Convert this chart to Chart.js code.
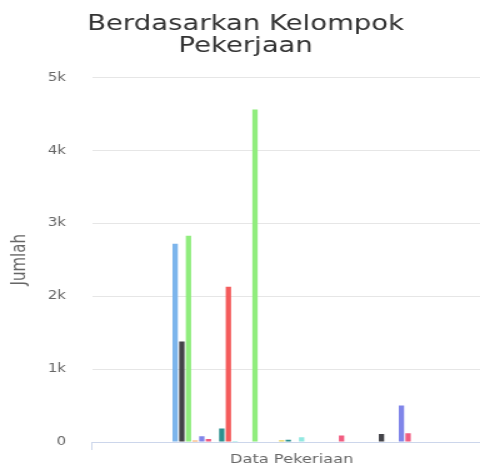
<!DOCTYPE html>
<html>
<head>
<meta charset="utf-8">
<script src="https://cdn.jsdelivr.net/npm/chart.js@4"></script>
<style>
  html, body { margin: 0; padding: 0; background: #fff; overflow: hidden; }
  #wrap { width: 396px; height: 475px; transform: scaleX(1.25); transform-origin: 0 0; }
</style>
</head>
<body>
<div id="wrap"><canvas id="chart" width="396" height="475"></canvas></div>
<script>
const categories = ["Data Pekerjaan"];

// one value per job group left to right
const values = [
  2720, 1380, 2830, 20, 80, 40, 0, 185, 2130, 15,
  0, 0, 4560, 0, 0, 0, 25, 30, 0, 65,
  0, 0, 0, 0, 0, 90, 0, 0, 0, 0,
  0, 110, 0, 0, 500, 120
];

const seriesNames = values.map((v, i) => `Kelompok ${i + 1}`);

const palette = ["#7cb5ec", "#434348", "#90ed7d", "#f7a35c", "#8085e9",
                 "#f15c80", "#e4d354", "#2b908f", "#f45b5b", "#91e8e1"];

const yTicks = [0, 1000, 2000, 3000, 4000, 5000];

const font = "'DejaVu Sans', Verdana, sans-serif";

const ctx = document.getElementById("chart").getContext("2d");

new Chart(ctx, {
  type: "bar",
  data: {
    labels: categories,
    datasets: values.map((v, i) => ({
      label: seriesNames[i],
      data: [v],
      backgroundColor: palette[i % palette.length],
      borderWidth: 0,
      categoryPercentage: 0.6,
      barPercentage: 0.8
    }))
  },
  options: {
    responsive: false,
    animation: false,
    devicePixelRatio: 1,
    layout: { padding: { left: 0, right: 3, top: 0, bottom: 5.4 } },
    plugins: {
      legend: { display: false },
      tooltip: { enabled: false },
      title: {
        display: true,
        text: ["Berdasarkan Kelompok", "Pekerjaan"],
        color: "#333",
        font: { family: font, size: 22, weight: "normal", lineHeight: 1.02 },
        padding: { top: 13, bottom: 19.6 }
      }
    },
    scales: {
      x: {
        grid: { drawOnChartArea: false, tickLength: 8, color: "#ccd6eb" },
        border: { color: "#ccd6eb" },
        ticks: {
          color: "#666",
          padding: 2,
          font: { family: font, size: 13 }
        }
      },
      y: {
        min: 0,
        max: 5000,
        afterBuildTicks: (s) => { s.ticks = yTicks.map(v => ({ value: v })); },
        afterFit: (s) => { s.width = 73.6; },
        grid: { color: "#e6e6e6", drawTicks: false, tickLength: 0 },
        border: { display: false },
        ticks: {
          color: "#666",
          padding: 20.8,
          font: { family: font, size: 12 },
          callback: (v) => v === 0 ? "0" : (v / 1000) + "k"
        },
        title: {
          display: true,
          text: "Jumlah",
          color: "#666",
          font: { family: font, size: 15 },
          padding: { top: 7, bottom: 0 }
        }
      }
    }
  }
});
</script>
</body>
</html>
